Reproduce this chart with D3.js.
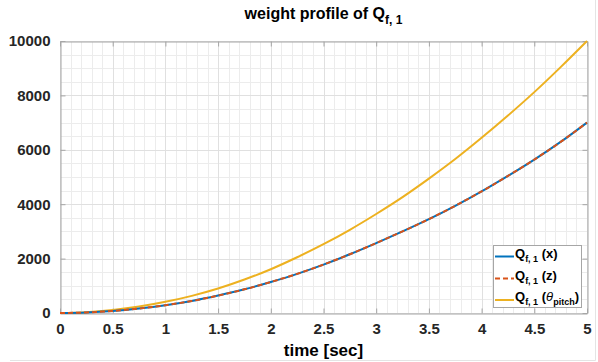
<!DOCTYPE html>
<html><head><meta charset="utf-8">
<script src="https://cdn.jsdelivr.net/npm/d3@7"></script>
<style>
body{margin:0;background:#fff;}
svg{display:block;font-family:"Liberation Sans",Arial,sans-serif;}
</style></head><body>
<svg id="c" width="598" height="362"></svg>
<script>
const time = [0,0.25,0.5,0.75,1,1.25,1.5,1.75,2,2.25,2.5,2.75,3,3.25,3.5,3.75,4,4.25,4.5,4.75,5];
const qx = [0,20,75,165,285,440,640,870,1140,1440,1780,2160,2570,3000,3450,3940,4470,5040,5640,6290,7000];
const qz = [0,20,75,165,285,440,640,870,1140,1440,1780,2160,2570,3000,3450,3940,4470,5040,5640,6290,7000];
const qpitch = [0,30,110,235,410,630,900,1230,1610,2050,2530,3060,3640,4260,4940,5660,6440,7260,8120,9040,10000];
const xTicks = [0,0.5,1,1.5,2,2.5,3,3.5,4,4.5,5];
const xTickLabels = ["0","0.5","1","1.5","2","2.5","3","3.5","4","4.5","5"];
const yTicks = [0,2000,4000,6000,8000,10000];
const yTickLabels = ["0","2000","4000","6000","8000","10000"];
const seriesNames = ["x","z","pitch"];

const svg = d3.select("#c");
const L=60,R=587,T=41,B=313;
const x = d3.scaleLinear().domain([0,5]).range([L,R]);
const y = d3.scaleLinear().domain([0,10000]).range([B,T]);

// outer figure border (light)
svg.append("line").attr("x1",10).attr("x2",595.5).attr("y1",360.5).attr("y2",360.5).attr("stroke","#e4e4e4");
svg.append("line").attr("x1",595.5).attr("x2",595.5).attr("y1",0).attr("y2",360.5).attr("stroke","#e4e4e4");

// minor grid
const g = svg.append("g");
d3.range(0,5.0001,0.1).forEach(v=>{
  g.append("line").attr("x1",Math.round(x(v))+0.5).attr("x2",Math.round(x(v))+0.5).attr("y1",T).attr("y2",B).attr("stroke","#ececec");
});
d3.range(0,10001,500).forEach(v=>{
  g.append("line").attr("y1",Math.round(y(v))+0.5).attr("y2",Math.round(y(v))+0.5).attr("x1",L).attr("x2",R).attr("stroke","#ececec");
});
// major grid
xTicks.forEach(v=>{
  g.append("line").attr("x1",Math.round(x(v))+0.5).attr("x2",Math.round(x(v))+0.5).attr("y1",T).attr("y2",B).attr("stroke","#e0e0e0");
});
yTicks.forEach(v=>{
  g.append("line").attr("y1",Math.round(y(v))+0.5).attr("y2",Math.round(y(v))+0.5).attr("x1",L).attr("x2",R).attr("stroke","#e0e0e0");
});

// axes
const axCol="#a6a6a6";
const xa = svg.append("g").attr("transform",`translate(0,${B+0.5})`)
  .call(d3.axisBottom(x).tickValues(xTicks).tickFormat((d,i)=>xTickLabels[i]).tickSizeInner(-5).tickSizeOuter(0).tickPadding(10));
const xt = svg.append("g").attr("transform",`translate(0,${T+0.5})`)
  .call(d3.axisTop(x).tickValues(xTicks).tickFormat("").tickSizeInner(-5).tickSizeOuter(0));
const ya = svg.append("g").attr("transform",`translate(${L+0.5},0)`)
  .call(d3.axisLeft(y).tickValues(yTicks).tickFormat((d,i)=>yTickLabels[i]).tickSizeInner(-5).tickSizeOuter(0).tickPadding(10));
const yr = svg.append("g").attr("transform",`translate(${R+0.5},0)`)
  .call(d3.axisRight(y).tickValues(yTicks).tickFormat("").tickSizeInner(-5).tickSizeOuter(0));
[xa,xt,ya,yr].forEach(a=>{
  a.selectAll("path").attr("stroke",axCol);
  a.selectAll("line").attr("stroke",axCol);
  a.selectAll("text").attr("fill","#262626").attr("font-size","15px").attr("font-weight","bold").attr("font-family","Liberation Sans, Arial, sans-serif");
});

// lines
const colors = {x:"#0072BD", z:"#D95319", pitch:"#EDB120"};
const line = d3.line().x((d,i)=>x(time[i])).y(d=>y(d)).curve(d3.curveMonotoneX);
const lg = svg.append("g");
lg.append("path").datum(qpitch).attr("d",line).attr("fill","none").attr("stroke",colors.pitch).attr("stroke-width",2);
lg.append("path").datum(qx).attr("d",line).attr("fill","none").attr("stroke",colors.x).attr("stroke-width",2);
lg.append("path").datum(qz).attr("d",line).attr("fill","none").attr("stroke",colors.z).attr("stroke-width",2).attr("stroke-dasharray","5,3");

// title
const tt = svg.append("text").attr("x",(L+R)/2).attr("y",19).attr("text-anchor","middle")
  .attr("font-size","16px").attr("font-weight","bold").attr("fill","#000");
tt.append("tspan").text("weight profile of Q");
tt.append("tspan").attr("font-size","12px").attr("dy",5).text("f, 1");

// x label
svg.append("text").attr("x",(L+R)/2).attr("y",356).attr("text-anchor","middle")
  .attr("font-size","17px").attr("font-weight","bold").attr("fill","#000").text("time [sec]");

// legend
const lx=493.5, ly=245.5, lw=88, lh=62;
const leg = svg.append("g");
leg.append("rect").attr("x",lx).attr("y",ly).attr("width",lw).attr("height",lh).attr("fill","#fff").attr("stroke","#a6a6a6");
const rows=[{k:"x",yy:256.5,dash:null},{k:"z",yy:278.5,dash:"5,3"},{k:"pitch",yy:300,dash:null}];
rows.forEach(r=>{
  leg.append("line").attr("x1",495).attr("x2",514).attr("y1",r.yy).attr("y2",r.yy)
    .attr("stroke",colors[r.k]).attr("stroke-width",2).attr("stroke-dasharray",r.dash);
  const t = leg.append("text").attr("x",515).attr("y",r.yy+1).attr("font-size","13px").attr("font-weight","bold").attr("fill","#000");
  t.append("tspan").text("Q");
  t.append("tspan").attr("font-size","9px").attr("dy",4).text("f, 1");
  if(r.k==="pitch"){
    t.append("tspan").attr("dy",-4).text(" (");
    t.append("tspan").attr("font-style","italic").attr("font-weight","normal").text("θ");
    t.append("tspan").attr("font-size","9px").attr("dy",4).text("pitch");
    t.append("tspan").attr("dy",-4).text(")");
  } else {
    t.append("tspan").attr("dy",-4).text(" ("+r.k+")");
  }
});
</script>
</body></html>
